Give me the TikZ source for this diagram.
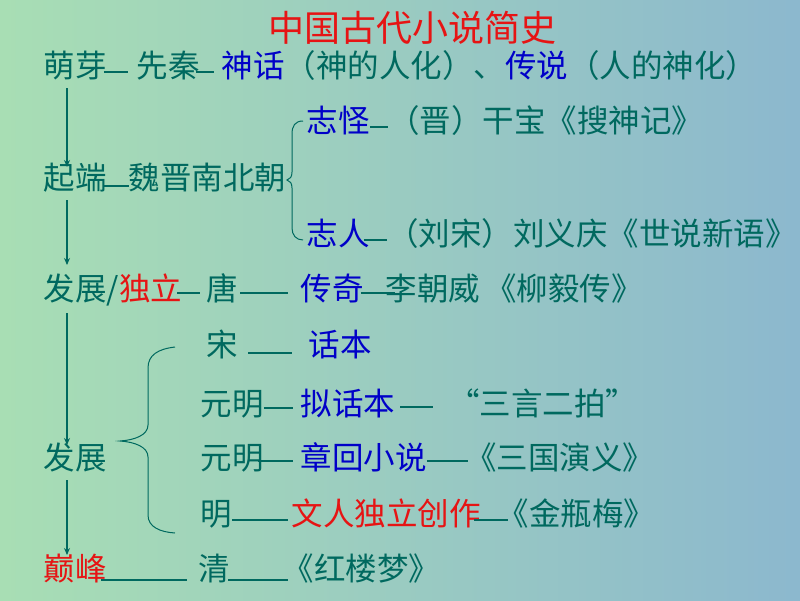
\documentclass[tikz,border=0pt]{standalone}
\usepackage{fontspec}
\newfontfamily\cjk{Noto Sans CJK SC}
\usepackage{xcolor}
\usetikzlibrary{arrows.meta}

\definecolor{bgleft}{RGB}{168,222,180}
\definecolor{bgright}{RGB}{140,184,206}
\definecolor{ink}{RGB}{0,105,95}
\definecolor{hblue}{RGB}{0,0,200}
\definecolor{hred}{RGB}{230,20,20}
\pgfdeclarehorizontalshading{slidebg}{100bp}{color(0bp)=(bgleft); color(25bp)=(bgleft); color(75bp)=(bgright); color(100bp)=(bgright)}

\begin{document}
\begin{tikzpicture}[x=1pt,y=-1pt,
    txt/.style={anchor=base west, inner sep=0pt, text=ink, font={\cjk\fontsize{31.5}{32}\selectfont}},
    link/.style={draw=ink, line width=1.2pt},
    arr/.style={draw=ink, line width=1.2pt, -{Stealth[length=7pt,width=6pt]}}]

    % Background
    \shade[shading=slidebg] (0,0) rectangle (800,600);
    \useasboundingbox (0,0) rectangle (800,600);

    % Title
    \node[txt, text=hred, font={\cjk\fontsize{36}{36}\selectfont}] (title) at (268,41) {中国古代小说简史};

    % Stages (left column)
    \node[txt] (mengya) at (43.5,77) {萌芽};
    \node[txt] (qiduan) at (43.5,189) {起端};
    \node[txt] (fazhanA) at (43.5,300) {发展/\textcolor{hred}{独立}};
    \node[txt] (fazhanB) at (43.5,469) {发展};
    \node[txt, text=hred] (dianfeng) at (43.5,580) {巅峰};

    % Row: sprouting
    \node[txt] (xianqin) at (136.5,77) {先秦};
    \node[txt] (shenhua) at (221.5,77) {\textcolor{hblue}{神话}（神的人化）、\textcolor{hblue}{传说}（人的神化）};

    % Row: Wei-Jin
    \node[txt] (weijin) at (128.5,189) {魏晋南北朝};
    \node[txt, text=hblue] (zhiguai) at (306.5,132) {志怪};
    \node[txt] (ganbao) at (388,132) {（晋）干宝《搜神记》};
    \node[txt, text=hblue] (zhiren) at (306.5,245) {志人};
    \node[txt] (liusong) at (387,245) {（刘宋）刘义庆《世说新语》};

    % Row: Tang
    \node[txt] (tang) at (206.5,300) {唐};
    \node[txt, text=hblue] (chuanqi) at (300.5,300) {传奇};
    \node[txt] (liyi) at (385.5,300) {李朝威\,《柳毅传》};

    % Rows: Song to Ming
    \node[txt] (song) at (206.5,356) {宋};
    \node[txt, text=hblue] (huaben) at (308.5,356) {话本};
    \node[txt] (yuanmingA) at (200.5,415) {元明};
    \node[txt, text=hblue] (nihuaben) at (300.5,415) {拟话本};
    \node[txt] (sanyan) at (448,415) {“三言二拍”};
    \node[txt] (yuanmingB) at (200.5,469) {元明};
    \node[txt, text=hblue] (zhanghui) at (300.5,469) {章回小说};
    \node[txt] (sanguo) at (465,469) {《三国演义》};
    \node[txt] (ming) at (200.5,525) {明};
    \node[txt, text=hred] (wenren) at (291.5,525) {文人独立创作};
    \node[txt] (jinping) at (497.5,525) {《金瓶梅》};

    % Row: Qing
    \node[txt] (qing) at (198.5,580) {清};
    \node[txt] (honglou) at (282.5,580) {《红楼梦》};

    % Dashes between items
    \draw[link, shorten <=-3pt, shorten >=8.5pt] ([yshift=5pt]mengya.base east) -- ([yshift=5pt]xianqin.base west);
    \draw[link, shorten >=8pt, shorten <=-4pt] ([yshift=5pt]xianqin.base east) -- ([yshift=5pt]shenhua.base west);
    \draw[link, shorten <=-3pt] ([yshift=3pt]qiduan.base east) -- ([yshift=3pt]weijin.base west);
    \draw[link] ([yshift=5pt]zhiguai.base east) -- ([yshift=5pt]ganbao.base west);
    \draw[link, shorten <=-6pt] ([yshift=5pt]zhiren.base east) -- ([yshift=5pt]liusong.base west);
    \draw[link, shorten <=-5pt, shorten >=6.5pt] ([yshift=7pt]fazhanA.base east) -- ([yshift=7pt]tang.base west);
    \draw[link, shorten <=2pt, shorten >=13pt] ([yshift=7pt]tang.base east) -- ([yshift=7pt]chuanqi.base west);
    \draw[link, shorten <=-3pt, shorten >=-9pt] ([yshift=7pt]chuanqi.base east) -- ([yshift=7pt]liyi.base west);
    \draw[link, shorten <=10pt, shorten >=16.5pt] ([yshift=3pt]song.base east) -- ([yshift=3pt]huaben.base west);
    \draw[link, shorten >=7.5pt] ([yshift=7pt]yuanmingA.base east) -- ([yshift=7pt]nihuaben.base west);
    \draw[link, shorten <=5pt, shorten >=15pt] ([yshift=8pt]nihuaben.base east) -- ([yshift=8pt]sanyan.base west);
    \draw[link, shorten <=-6pt, shorten >=7.5pt] ([yshift=8pt]yuanmingB.base east) -- ([yshift=8pt]zhanghui.base west);
    \draw[link, shorten >=-3pt] ([yshift=8pt]zhanghui.base east) -- ([yshift=8pt]sanguo.base west);
    \draw[link, shorten >=3.5pt] ([yshift=5pt]ming.base east) -- ([yshift=5pt]wenren.base west);
    \draw[link, shorten <=-7pt, shorten >=-10pt] ([yshift=5pt]wenren.base east) -- ([yshift=5pt]jinping.base west);
    \draw[link, shorten <=-6pt, shorten >=11.5pt] ([yshift=0pt]dianfeng.base east) -- ([yshift=0pt]qing.base west);
    \draw[link, shorten <=-2pt, shorten >=-5pt] ([yshift=0pt]qing.base east) -- ([yshift=0pt]honglou.base west);

    % Timeline arrows
    \draw[arr] ([xshift=23.5pt,yshift=-11pt]mengya.base west) -- ([xshift=23.5pt,yshift=22pt]qiduan.base west);
    \draw[arr] ([xshift=23.5pt,yshift=-11pt]qiduan.base west) -- ([xshift=23.5pt,yshift=35pt]fazhanA.base west);
    \draw[arr] ([xshift=23.5pt,yshift=-13pt]fazhanA.base west) -- ([xshift=23.5pt,yshift=24pt]fazhanB.base west);
    \draw[arr] ([xshift=23.5pt,yshift=-11pt]fazhanB.base west) -- ([xshift=23.5pt,yshift=25pt]dianfeng.base west);

    % Braces
    \draw[link, line width=1pt] (303,121) .. controls (295,121) and (292,126) .. (292,134) -- (292,172)
        .. controls (292,177) and (290,179) .. (287,180) .. controls (290,181) and (292,183) .. (292,188)
        -- (292,228) .. controls (292,235) and (296,240) .. (303,240);
    \draw[link, line width=1pt] (175,347) .. controls (158,349) and (148,355) .. (148,368) -- (148,425)
        .. controls (148,435) and (135,440) .. (120,441) .. controls (135,442) and (148,447) .. (148,457)
        -- (148,515) .. controls (148,527) and (160,532) .. (175,533);
\end{tikzpicture}
\end{document}
